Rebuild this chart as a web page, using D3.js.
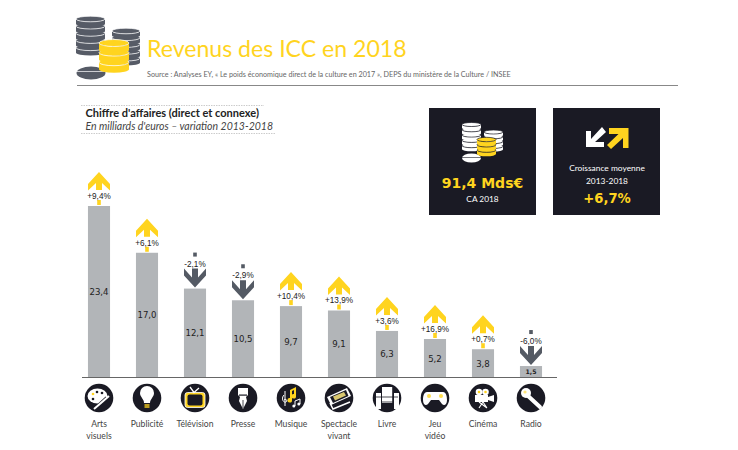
<!DOCTYPE html>
<html><head><meta charset="utf-8">
<script src="https://cdn.jsdelivr.net/npm/d3@7/dist/d3.min.js"></script>
<style>html,body{margin:0;padding:0;background:#fff}svg{display:block}</style>
</head><body>
<svg id="c" width="738" height="450"></svg>
<script>
const categories=["Arts visuels","Publicité","Télévision","Presse","Musique","Spectacle vivant","Livre","Jeu vidéo","Cinéma","Radio"];
const values=[23.4,17.0,12.1,10.5,9.7,9.1,6.3,5.2,3.8,1.5];
const variations=[9.4,6.1,-2.1,-2.9,10.4,13.9,3.6,16.9,0.7,-6.0];
const icons=["palette","bulb","tv","pen","music","ticket","books","pad","camera","mic"];
const YEL="#FFD41F",DARK="#1A1A24",GREY="#B2B5B8",SLATE="#545A64",COIN="#565B66";
const UI="Lato, 'Open Sans', sans-serif",VF="'DejaVu Sans', sans-serif",LF="'Liberation Sans', sans-serif";
const fmt=v=>v.toFixed(1).replace(".",",");
const svg=d3.select("#c");
const x=d3.scaleBand().domain(categories).range([75,555]).paddingInner(0.54).paddingOuter(0.27);
const y=d3.scaleLinear().domain([0,23.4]).range([377,206]);

function txt(p,t,tx,ty,o={}){return p.append("text").attr("x",tx).attr("y",ty).text(t)
 .attr("font-family",o.f||UI).attr("font-size",o.s||10).attr("fill",o.c||"#333")
 .attr("font-weight",o.w||400).attr("font-style",o.i||"normal").attr("text-anchor",o.a||"start");}

function stack(g,cx,top,n,rx,ry,h,gap,fill,band){
 for(let i=n-1;i>=0;i--){
  const yy=top+i*(h+gap);
  g.append("path").attr("d",`M${cx-rx},${yy}A${rx},${ry} 0 0 0 ${cx+rx},${yy}V${yy+h}A${rx},${ry} 0 0 1 ${cx-rx},${yy+h}Z`).attr("fill",fill);
  g.append("ellipse").attr("cx",cx).attr("cy",yy).attr("rx",rx).attr("ry",ry).attr("fill",fill).attr("stroke",band).attr("stroke-width",0.7);
 }
}
// Header coins
const hc=svg.append("g");
stack(hc,126,31,5,14,2.8,4.5,2.3,COIN,"#fff");
stack(hc,90.5,19,5,14.5,2.8,5,2.2,COIN,"#fff");
hc.append("ellipse").attr("cx",91).attr("cy",73).attr("rx",14.5).attr("ry",6.5).attr("fill",COIN);
hc.append("rect").attr("x",76).attr("y",71).attr("width",30).attr("height",.7).attr("fill","#fff");
stack(hc,114,43,3,15,3.5,7,2.6,YEL,"#fff");

txt(svg,"Revenus des ICC en 2018",147,57,{s:23.1,c:YEL});
txt(svg,"Source : Analyses EY, « Le poids économique direct de la culture en 2017 », DEPS du ministère de la Culture / INSEE",147,77,{s:7.2,c:"#666"});
svg.append("line").attr("x1",77).attr("x2",678).attr("y1",85.5).attr("y2",85.5).attr("stroke","#888").attr("stroke-width",1);

svg.append("line").attr("x1",81).attr("x2",264).attr("y1",105.5).attr("y2",105.5).attr("stroke","#ccc").attr("stroke-dasharray","1.5 1");
svg.append("line").attr("x1",81).attr("x2",275).attr("y1",133.5).attr("y2",133.5).attr("stroke","#ccc").attr("stroke-dasharray","1.5 1");
txt(svg,"Chiffre d'affaires (direct et connexe)",85.5,117,{s:11,w:700,c:"#222"});
txt(svg,"En milliards d'euros – variation 2013-2018",85.5,130,{s:10.5,i:"italic",c:"#444"});

// KPI boxes
svg.append("rect").attr("x",429).attr("y",108).attr("width",107).attr("height",107).attr("fill",DARK);
svg.append("rect").attr("x",553).attr("y",108).attr("width",107).attr("height",107).attr("fill",DARK);
const k=svg.append("g");
stack(k,493.5,132,4,9.5,2,3.2,1.6,"#fff",DARK);
stack(k,471.5,124.5,5,9.5,2,3.6,1.7,"#fff",DARK);
k.append("ellipse").attr("cx",471.5).attr("cy",158).attr("rx",9.5).attr("ry",4.5).attr("fill","#fff");
k.append("rect").attr("x",462).attr("y",157).attr("width",19).attr("height",.6).attr("fill",DARK);
stack(k,486.5,139.5,3,9.5,2.2,4,1.3,YEL,DARK);

txt(svg,"91,4 Mds€",482.5,188,{s:14,w:700,f:VF,c:YEL,a:"middle"});
txt(svg,"CA 2018",482.5,202,{s:8.3,c:"#fff",a:"middle"});
txt(svg,"Croissance moyenne",607,171,{s:8.4,c:"#fff",a:"middle"});
txt(svg,"2013-2018",607,184,{s:8.4,c:"#fff",a:"middle"});
txt(svg,"+6,7%",607,203,{s:13.2,w:700,f:VF,c:YEL,a:"middle"});
// KPI arrows
svg.append("path").attr("d","M586,147H604V142H595L606,132L602,127L591,139V131H586Z").attr("fill","#fff");
svg.append("path").attr("d","M609,128H628.5V148H623V138L611,149L607,145L618.5,134H609Z").attr("fill",YEL);

// Bars
const barG=svg.append("g");
barG.selectAll("rect").data(values).join("rect")
 .attr("x",(d,i)=>x(categories[i])).attr("width",x.bandwidth())
 .attr("y",d=>y(d)).attr("height",d=>y(0)-y(d)).attr("fill",GREY);
barG.selectAll("text").data(values).join("text")
 .attr("x",(d,i)=>x(categories[i])+x.bandwidth()/2)
 .attr("y",d=>(y(d)+y(0))/2+(d<2?2.5:3.5)).attr("text-anchor","middle")
 .attr("font-family",VF).attr("font-size",d=>d<2?6.2:8.6)
 .attr("font-weight",d=>d<2?700:400).attr("fill","#222").text(fmt);

// Baseline
svg.append("line").attr("x1",82).attr("x2",557).attr("y1",y(0)+.5).attr("y2",y(0)+.5).attr("stroke","#666").attr("stroke-width",1.2);

// Variation arrows
const upHead="M0,-34L11,-22V-15.5L3,-23V-16H-3V-23L-11,-15.5V-22Z";
const downHead="M-3,-20H3V-11L11,-20V-13L0,-1L-11,-13V-20L-3,-11Z";
values.forEach((v,i)=>{
 const cx=x(categories[i])+x.bandwidth()/2,t=y(v),up=variations[i]>=0;
 const g=svg.append("g").attr("transform",`translate(${cx},${t})`);
 if(up){
  g.append("path").attr("d",upHead).attr("fill",YEL);
  g.append("rect").attr("x",-1.8).attr("y",-6).attr("width",3.6).attr("height",5).attr("fill",YEL);
 }else{
  g.append("path").attr("d",downHead).attr("fill",SLATE);
  g.append("rect").attr("x",-1.8).attr("y",-36).attr("width",3.6).attr("height",4).attr("fill",SLATE);
 }
 txt(g,(up?"+":"-")+fmt(Math.abs(variations[i]))+"%",0,up?-7.2:-22,{s:8.2,f:LF,a:"middle",c:"#222"});
});

// Icons
const draw={
 palette(g){g.append("ellipse").attr("cx",-1.5).attr("cy",-2).attr("rx",10).attr("ry",7.5).attr("fill","#fff");
  [[-6,-4,YEL],[-2,-6,DARK],[3,-5,DARK],[-6,1,DARK]].forEach(a=>g.append("circle").attr("cx",a[0]).attr("cy",a[1]).attr("r",1.3).attr("fill",a[2]));
  g.append("path").attr("d","M-4,11L8,0").attr("stroke",DARK).attr("stroke-width",4);
  g.append("path").attr("d","M-5,11L10,-2").attr("stroke","#fff").attr("stroke-width",2);},
 bulb(g){g.append("path").attr("d","M-3,5C-3,1 -7,-1 -7,-5A7,7 0 0 1 7,-5C7,-1 3,1 3,5Z").attr("fill","#fff");
  g.append("rect").attr("x",-2.5).attr("y",6).attr("width",5).attr("height",4).attr("fill",YEL).attr("opacity",.7);},
 tv(g){g.append("rect").attr("x",-10).attr("y",-5.5).attr("width",20).attr("height",15).attr("rx",2.5).attr("fill",YEL);
  g.append("rect").attr("x",-7.5).attr("y",-3.5).attr("width",15).attr("height",11).attr("rx",2).attr("fill",DARK);
  g.append("rect").attr("x",-10).attr("y",-5.5).attr("width",20).attr("height",15).attr("rx",2.5).attr("fill","none").attr("stroke","#fff").attr("stroke-width",.8);
  g.append("path").attr("d","M-5,-11L-1,-5.5L4,-10").attr("fill","none").attr("stroke","#fff").attr("stroke-width",1.3);},
 pen(g){g.append("path").attr("d","M-5,-10H5V-3L3,-1L4,3L0,11L-4,3L-3,-1L-5,-3Z").attr("fill","#fff");
  g.append("path").attr("d","M0,2V10").attr("stroke",DARK).attr("stroke-width",.8);
  g.append("rect").attr("x",-4).attr("y",-3.5).attr("width",8).attr("height",1.2).attr("fill",DARK);},
 music(g){g.append("path").attr("d","M-1,-8L5,-11V-2A2.3,2.3 0 1 1 3,-4V-8L1,-7V2A2.3,2.3 0 1 1 -1,0Z").attr("fill",YEL);
  g.append("path").attr("d","M-7,-3C-10,0 -8,5 -5,4C-3,3 -5,0 -7,2M-6,-7V8").attr("fill","none").attr("stroke","#fff").attr("stroke-width",1);
  g.append("path").attr("d","M4,8V3L9,1V6").attr("fill","none").attr("stroke","#fff").attr("stroke-width",1);
  g.append("circle").attr("cx",2.8).attr("cy",8).attr("r",1.5).attr("fill","#fff");g.append("circle").attr("cx",7.8).attr("cy",6).attr("r",1.5).attr("fill","#fff");},
 ticket(g){g.append("path").attr("d","M-12,0L8,-9L12,-1L-8,8Z").attr("fill","#fff").attr("transform","translate(0,-1)");
  g.append("path").attr("d","M-9,0L7,-7L9.5,-1L-6,6Z").attr("fill",DARK).attr("transform","translate(0,-1)");
  g.append("path").attr("d","M-6,-0.5L5,-5L7,-1.5L-4,3.5Z").attr("fill","#D9C870").attr("transform","translate(0,-1)");
  g.append("path").attr("d","M-9,5L-6,11L11,4").attr("fill","none").attr("stroke","#fff").attr("stroke-width",1.5);},
 books(g){[[-11,5,-5,16],[-5,11,-11,16],[7,5,-5,16]].forEach(a=>g.append("rect").attr("x",a[0]).attr("y",a[2]).attr("width",a[1]).attr("height",a[3]).attr("fill","#fff"));
  g.append("path").attr("d","M-5.5,-11V11M5.5,-11V11M-11,-1H11M-5,4H6").attr("stroke",DARK).attr("stroke-width",.8);},
 pad(g){g.append("path").attr("d","M-8,-6H8C11,-6 12,-2 12,2C12,7 9,8 7,6L4,2H-4L-7,6C-9,8 -12,7 -12,2C-12,-2 -11,-6 -8,-6Z").attr("fill","#fff");
  g.append("circle").attr("cx",-6).attr("cy",-2).attr("r",2).attr("fill",YEL).attr("opacity",.8);
  g.append("circle").attr("cx",6).attr("cy",-2).attr("r",2).attr("fill",YEL).attr("opacity",.8);},
 camera(g){g.append("rect").attr("x",-8).attr("y",-3).attr("width",13).attr("height",7).attr("fill","#fff");
  g.append("path").attr("d","M5,-1L11,-3V4L5,2Z").attr("fill","#fff");
  g.append("circle").attr("cx",-4).attr("cy",-6).attr("r",3.3).attr("fill","#fff");g.append("circle").attr("cx",2.5).attr("cy",-6).attr("r",3.3).attr("fill","#fff");
  g.append("circle").attr("cx",-4).attr("cy",-6).attr("r",1.3).attr("fill",YEL);g.append("circle").attr("cx",2.5).attr("cy",-6).attr("r",1.3).attr("fill",YEL);
  g.append("path").attr("d","M-4,10L0,4L4,10M-4,4L4,10").attr("fill","none").attr("stroke","#fff").attr("stroke-width",1.1);},
 mic(g){g.append("line").attr("x1",-4).attr("y1",-3).attr("x2",9).attr("y2",9).attr("stroke","#fff").attr("stroke-width",4).attr("stroke-linecap","round");
  g.append("circle").attr("cx",-5).attr("cy",-5).attr("r",5).attr("fill","#fff");
  g.append("circle").attr("cx",-6).attr("cy",-6).attr("r",1.6).attr("fill",YEL).attr("opacity",.6);}
};
categories.forEach((c,i)=>{
 const cx=x(c)+x.bandwidth()/2;
 const g=svg.append("g").attr("transform",`translate(${cx},398)`);
 g.append("circle").attr("r",14.3).attr("fill",DARK);
 draw[icons[i]](g);
 const w=c.split(" ");
 w.forEach((t,j)=>txt(svg,t,cx,427+j*12,{s:8.6,a:"middle",c:"#444"}));
});
</script>
</body></html>
